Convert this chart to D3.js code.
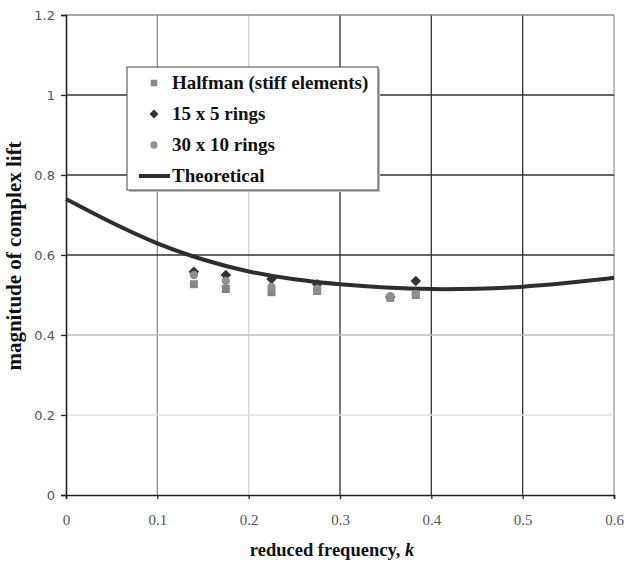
<!DOCTYPE html>
<html>
<head>
<meta charset="utf-8">
<script src="https://cdn.jsdelivr.net/npm/d3@7"></script>
<style>
  body { margin: 0; background: #fff; }
</style>
</head>
<body>
<script>
// data
var kHalfman = [0.14, 0.175, 0.225, 0.275, 0.355, 0.383];
var liftHalfman = [0.527, 0.515, 0.507, 0.51, 0.493, 0.5];
var k15x5 = [0.14, 0.175, 0.225, 0.275, 0.355, 0.383];
var lift15x5 = [0.558, 0.55, 0.54, 0.527, 0.495, 0.535];
var k30x10 = [0.14, 0.175, 0.225, 0.275, 0.355, 0.383];
var lift30x10 = [0.55, 0.535, 0.52, 0.515, 0.497, 0.502];
var kTheory = [0, 0.05, 0.1, 0.15, 0.2, 0.25, 0.3, 0.35, 0.4, 0.45, 0.5, 0.55, 0.6];
var liftTheory = [0.74, 0.68, 0.627, 0.587, 0.557, 0.538, 0.526, 0.518, 0.514, 0.515, 0.52, 0.53, 0.543];
var xTicks = [0, 0.1, 0.2, 0.3, 0.4, 0.5, 0.6];
var yTicks = [0, 0.2, 0.4, 0.6, 0.8, 1, 1.2];
var legendNames = ["Halfman (stiff elements)", "15 x 5 rings", "30 x 10 rings", "Theoretical"];

var width = 627, height = 562;
var margin = {top: 15, right: 13, bottom: 67, left: 66};

var svg = d3.select("body").append("svg")
  .attr("width", width)
  .attr("height", height);

var x = d3.scaleLinear().domain([0, 0.6]).range([margin.left, width - margin.right]);
var y = d3.scaleLinear().domain([0, 1.2]).range([height - margin.bottom, margin.top]);

// grid lines, the scan has them in different greys
var vGridColor = {"0.1": "#8a8a8a", "0.2": "#d0d0d0", "0.3": "#333", "0.4": "#333", "0.5": "#333", "0.6": "#999"};
var hGridColor = {"0.2": "#e0e0e0", "0.4": "#bdbdbd", "0.6": "#333", "0.8": "#333", "1": "#333", "1.2": "#8a8a8a"};

svg.append("g").selectAll("line")
  .data(xTicks.filter(function (d) { return d > 0; }))
  .enter().append("line")
  .attr("x1", function (d) { return x(d); })
  .attr("x2", function (d) { return x(d); })
  .attr("y1", y(0))
  .attr("y2", y(1.2))
  .attr("stroke", function (d) { return vGridColor[String(d)]; })
  .attr("stroke-width", 1.3);

svg.append("g").selectAll("line")
  .data(yTicks.filter(function (d) { return d > 0; }))
  .enter().append("line")
  .attr("x1", x(0))
  .attr("x2", x(0.6))
  .attr("y1", function (d) { return y(d); })
  .attr("y2", function (d) { return y(d); })
  .attr("stroke", function (d) { return hGridColor[String(d)]; })
  .attr("stroke-width", 1.3);

// axes
var xAxis = svg.append("g")
  .attr("transform", "translate(0," + y(0) + ")")
  .call(d3.axisBottom(x).tickValues(xTicks).tickFormat(d3.format("")).tickSize(4).tickPadding(15));
xAxis.select(".domain").attr("stroke", "#222").attr("stroke-width", 1.6);
xAxis.selectAll(".tick line").attr("stroke", "#222").attr("stroke-width", 1.3);
xAxis.selectAll("text")
  .attr("font-family", "Liberation Serif, serif")
  .attr("font-size", 15)
  .attr("fill", "#555");

var yAxis = svg.append("g")
  .attr("transform", "translate(" + x(0) + ",0)")
  .call(d3.axisLeft(y).tickValues(yTicks).tickFormat(d3.format("")).tickSize(5).tickPadding(6));
yAxis.select(".domain").attr("stroke", "#222").attr("stroke-width", 1.6);
yAxis.selectAll(".tick line").attr("stroke", "#222").attr("stroke-width", 1.3);
yAxis.selectAll("text")
  .attr("font-family", "DejaVu Sans, sans-serif")
  .attr("font-size", 13)
  .attr("fill", "#555");

// theoretical curve
var line = d3.line()
  .x(function (d, i) { return x(kTheory[i]); })
  .y(function (d) { return y(d); })
  .curve(d3.curveBasis);

svg.append("path")
  .datum(liftTheory)
  .attr("d", line)
  .attr("fill", "none")
  .attr("stroke", "#2e2e2e")
  .attr("stroke-width", 4);

// markers
var sq = d3.symbol().type(d3.symbolSquare).size(64);
var dia = d3.symbol().type(d3.symbolSquare).size(56);   // rotated 45 below
var circ = d3.symbol().type(d3.symbolCircle).size(55);

svg.append("g").selectAll("path")
  .data(lift15x5)
  .enter().append("path")
  .attr("d", dia)
  .attr("transform", function (d, i) { return "translate(" + x(k15x5[i]) + "," + y(d) + ") rotate(45)"; })
  .attr("fill", "#333");

svg.append("g").selectAll("path")
  .data(liftHalfman)
  .enter().append("path")
  .attr("d", sq)
  .attr("transform", function (d, i) { return "translate(" + x(kHalfman[i]) + "," + y(d) + ")"; })
  .attr("fill", "#858585");

svg.append("g").selectAll("path")
  .data(lift30x10)
  .enter().append("path")
  .attr("d", circ)
  .attr("transform", function (d, i) { return "translate(" + x(k30x10[i]) + "," + y(d) + ")"; })
  .attr("fill", "#8f8f8f");

// legend
var legend = svg.append("g").attr("transform", "translate(127,67)");
legend.append("rect")
  .attr("x", 2).attr("y", 2)
  .attr("width", 251).attr("height", 123)
  .attr("fill", "#bbb");
legend.append("rect")
  .attr("width", 251).attr("height", 123)
  .attr("fill", "#fff")
  .attr("stroke", "#444")
  .attr("stroke-width", 1);

var rows = legend.selectAll("g.row")
  .data(legendNames)
  .enter().append("g")
  .attr("class", "row")
  .attr("transform", function (d, i) { return "translate(0," + (16 + i * 31) + ")"; });

rows.each(function (d, i) {
  var g = d3.select(this);
  if (i === 0) g.append("path").attr("d", d3.symbol().type(d3.symbolSquare).size(42)).attr("transform", "translate(27,0)").attr("fill", "#858585");
  if (i === 1) g.append("path").attr("d", d3.symbol().type(d3.symbolSquare).size(40)).attr("transform", "translate(27,0) rotate(45)").attr("fill", "#333");
  if (i === 2) g.append("path").attr("d", d3.symbol().type(d3.symbolCircle).size(42)).attr("transform", "translate(27,0)").attr("fill", "#8f8f8f");
  if (i === 3) g.append("line").attr("x1", 12).attr("x2", 43).attr("y1", 0).attr("y2", 0).attr("stroke", "#2e2e2e").attr("stroke-width", 4);
  g.append("text")
    .attr("x", 45)
    .attr("y", 6)
    .attr("font-family", "Liberation Serif, serif")
    .attr("font-weight", "bold")
    .attr("font-size", 19)
    .attr("fill", "#111")
    .text(d);
});

// axis titles
var xt = svg.append("text")
  .attr("x", 332)
  .attr("y", 556)
  .attr("text-anchor", "middle")
  .attr("font-family", "Liberation Serif, serif")
  .attr("font-weight", "bold")
  .attr("font-size", 18.5)
  .attr("fill", "#111");
xt.append("tspan").text("reduced frequency, ");
xt.append("tspan").attr("font-style", "italic").text("k");

svg.append("text")
  .attr("transform", "translate(21,256) rotate(-90)")
  .attr("text-anchor", "middle")
  .attr("font-family", "Liberation Serif, serif")
  .attr("font-weight", "bold")
  .attr("font-size", 21)
  .attr("fill", "#111")
  .text("magnitude of complex lift");
</script>
</body>
</html>
